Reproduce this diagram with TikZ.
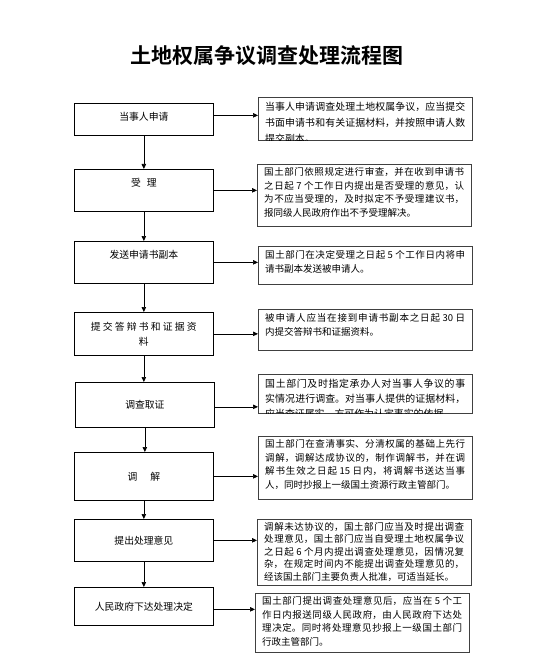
\documentclass[tikz,border=0pt]{standalone}
\usepackage{fontspec}
\newfontfamily\cjk{Noto Sans CJK SC}
\newfontfamily\cjkbf{Noto Sans CJK SC Bold}
\XeTeXlinebreaklocale "zh"
\XeTeXlinebreakskip=0pt plus 2pt
\usetikzlibrary{arrows.meta,positioning}

\tikzset{
  lbox/.style={draw, line width=0.7pt, anchor=north west, minimum width=139pt,
    inner sep=0pt, align=center, font=\cjk\fontsize{9.8}{15}\selectfont},
  rbox/.style={draw=black!75, line width=0.9pt, anchor=north west,
    minimum width=214pt, inner sep=0pt},
  rtext/.style={anchor=north west, text width=200pt, inner xsep=7pt,
    inner ysep=3pt, align=justify, font=\cjk\fontsize{9.5}{13.8}\selectfont},
  arr/.style={-{Triangle[length=5pt,width=4.5pt]}, line width=0.7pt}
}

\begin{document}
\begin{tikzpicture}[x=1pt,y=-1pt]
  \useasboundingbox (0,0) rectangle (543,663);

  \node[font=\cjkbf\fontsize{21}{25}\selectfont] (title) at (267,56) {土地权属争议调查处理流程图};

  % steps on the left
  \node[lbox, text height=17pt, text depth=15pt] (a1) at (74,103) {当事人申请};
  \node[lbox, text height=17pt, text depth=25pt] (a2) at (74,169) {受\hspace{6pt}理};
  \node[lbox, text height=17pt, text depth=25pt] (a3) at (74,241) {发送申请书副本};
  \node[lbox, minimum height=43pt] (a4) at (74,312) {提 交 答 辩 书 和 证 据 资\\料};
  \node[lbox, minimum height=45pt] (a5) at (75,382) {调查取证};
  \node[lbox, minimum height=48pt] (a6) at (74,452) {调\hspace{13pt}解};
  \node[lbox, minimum height=42pt] (a7) at (74,519) {提出处理意见};
  \node[lbox, minimum height=38pt] (a8) at (74,587) {人民政府下达处理决定};

  % notes on the right
  \node[rbox, minimum height=43pt] (r1) at (258,97) {};
  \begin{scope}
    \clip (r1.north west) rectangle (r1.south east);
    \node[rtext, inner ysep=5pt, font=\cjk\fontsize{9.9}{16}\selectfont] (t1) at (r1.north west)
      {当事人申请调查处理土地权属争议，应当提交\linebreak
       书面申请书和有关证据材料，并按照申请人数\linebreak
       提交副本。};
  \end{scope}

  \node[rbox, minimum height=62pt] (r2) at (257,164) {};
  \node[rtext] (t2) at (r2.north west)
    {国土部门依照规定进行审查，并在收到申请书\linebreak
     之日起 7 个工作日内提出是否受理的意见，认\linebreak
     为不应当受理的，及时拟定不予受理建议书，\linebreak
     报同级人民政府作出不予受理解决。};

  \node[rbox, minimum height=38pt] (r3) at (258,246) {};
  \node[rtext, inner ysep=4pt] (t3) at (r3.north west)
    {国土部门在决定受理之日起 5 个工作日内将申\linebreak
     请书副本发送被申请人。};

  \node[rbox, minimum height=41pt] (r4) at (258,309) {};
  \node[rtext, inner ysep=4pt] (t4) at (r4.north west)
    {被申请人应当在接到申请书副本之日起 30 日\linebreak
     内提交答辩书和证据资料。};

  \node[rbox, minimum height=39pt] (r5) at (258,374) {};
  \begin{scope}
    \clip (r5.north west) rectangle (r5.south east);
    \node[rtext, inner ysep=5pt, font=\cjk\fontsize{9.9}{15}\selectfont] (t5) at (r5.north west)
      {国土部门及时指定承办人对当事人争议的事\linebreak
       实情况进行调查。对当事人提供的证据材料，\linebreak
       应当查证属实，方可作为认定事实的依据。};
  \end{scope}

  \node[rbox, minimum height=63pt] (r6) at (258,436) {};
  \node[rtext] (t6) at (r6.north west)
    {国土部门在查清事实、分清权属的基础上先行\linebreak
     调解，调解达成协议的，制作调解书，并在调\linebreak
     解书生效之日起 15 日内，将调解书送达当事\linebreak
     人，同时抄报上一级国土资源行政主管部门。};

  \node[rbox, minimum height=66pt] (r7) at (257,519) {};
  \node[rtext, font=\cjk\fontsize{9.5}{12.5}\selectfont] (t7) at (r7.north west)
    {调解未达协议的，国土部门应当及时提出调查\linebreak
     处理意见，国土部门应当自受理土地权属争议\linebreak
     之日起 6 个月内提出调查处理意见，因情况复\linebreak
     杂，在规定时间内不能提出调查处理意见的，\linebreak
     经该国土部门主要负责人批准，可适当延长。};

  \node[rbox, minimum height=59pt] (r8) at (255,593) {};
  \node[rtext] (t8) at (r8.north west)
    {国土部门提出调查处理意见后，应当在 5 个工\linebreak
     作日内报送同级人民政府，由人民政府下达处\linebreak
     理决定。同时将处理意见抄报上一级国土部门\linebreak
     行政主管部门。};

  % flow down the left
  \draw[arr] (a1) -- (a2);
  \draw[arr] (a2) -- (a3);
  \draw[arr] (a3) -- (a4);
  \draw[arr] (a4.south) -- (a4.south |- a5.north);
  \draw[arr] (a5.south) -- (a5.south |- a6.north);
  \draw[arr] (a6) -- (a7);
  \draw[arr] (a7) -- (a8);

  % each step to its note
  \coordinate (h1) at ([yshift=4pt]a1.east);
  \coordinate (h5) at ([yshift=-2pt]a5.east);
  \coordinate (h8) at ([yshift=-3pt]a8.east);
  \draw[arr] (h1) -- (h1 -| r1.west);
  \draw[arr] (a2.east) -- (a2.east -| r2.west);
  \draw[arr] (a3.east) -- (a3.east -| r3.west);
  \draw[arr] (a4.east) -- (a4.east -| r4.west);
  \draw[arr] (h5) -- (h5 -| r5.west);
  \draw[arr] (a6.east) -- (a6.east -| r6.west);
  \draw[arr] (a7.east) -- (a7.east -| r7.west);
  \draw[arr] (h8) -- (h8 -| r8.west);
\end{tikzpicture}
\end{document}
